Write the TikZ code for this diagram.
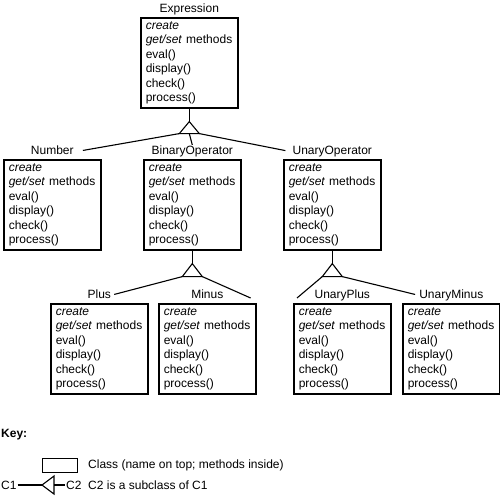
\documentclass[tikz,border=0pt]{standalone}
\usepackage{fontspec}
\setmainfont{Liberation Sans}
\usetikzlibrary{positioning}

\newcommand{\opslist}{\textit{create}\\\textit{get/set} methods\\eval()\\display()\\check()\\process()}

\begin{document}
\begin{tikzpicture}[x=1pt,y=-1pt,
    font=\fontsize{12}{14.4}\selectfont,
    cls/.style={draw, line width=1.6pt, anchor=north west, align=left,
      text width=87pt, inner xsep=5pt, inner ysep=3pt, minimum height=90pt},
    clsname/.style={inner sep=1pt, text depth=0pt},
    gen/.style={line width=1.1pt},
    txt/.style={inner sep=1pt, anchor=west}]

  \useasboundingbox (0,0) rectangle (500,497);

  % ========== Expression ==========
  \node[cls] (expr) at (140,17) {\opslist};
  \node[clsname, above=3pt of expr] (expr-name) {Expression};
  \draw[gen] (expr.south) -- ++(0,13) coordinate (e-apex);
  \draw[gen] (e-apex) -- ++(-10,12) coordinate (e-left) -- ++(20,0) coordinate (e-right) -- cycle;
  \path (e-apex) ++(0,12) coordinate (e-mid);

  % ========== second row ==========
  \node[cls] (num) at (3,159) {\opslist};
  \node[clsname, above=3pt of num] (num-name) {Number};

  \node[cls] (bin) at (143,159) {\opslist};
  \node[clsname, above=3pt of bin] (bin-name) {BinaryOperator};
  \draw[gen] (bin.south) -- ++(0,13) coordinate (b-apex);
  \draw[gen] (b-apex) -- ++(-10,13) coordinate (b-left) -- ++(20,0) coordinate (b-right) -- cycle;

  \node[cls] (una) at (283,159) {\opslist};
  \node[clsname, above=3pt of una] (una-name) {UnaryOperator};
  \draw[gen] (una.south) -- ++(0,13) coordinate (u-apex);
  \draw[gen] (u-apex) -- ++(-10,13) coordinate (u-left) -- ++(20,0) coordinate (u-right) -- cycle;

  \draw[gen] (e-left) -- ([xshift=8pt]num-name.east);
  \draw[gen] (e-mid) -- (bin-name.north);
  \draw[gen] (e-right) -- ([xshift=-6pt]una-name.west);

  % ========== third row ==========
  \node[cls] (plus) at (50,303) {\opslist};
  \node[clsname, above=3pt of plus] (plus-name) {Plus};

  \node[cls] (minus) at (158,303) {\opslist};
  \node[clsname, above=3pt of minus] (minus-name) {Minus};

  \node[cls] (uplus) at (293,303) {\opslist};
  \node[clsname, above=3pt of uplus] (uplus-name) {UnaryPlus};

  \node[cls] (uminus) at (402,303) {\opslist};
  \node[clsname, above=3pt of uminus] (uminus-name) {UnaryMinus};

  \draw[gen] (b-left) -- ([xshift=2pt]plus-name.east);
  \draw[gen] (b-right) -- ([shift={(-6pt,5pt)}]minus.north east);
  \draw[gen] (u-left) -- ([shift={(4pt,5pt)}]uplus.north west);
  \draw[gen] (u-right) -- ([xshift=-3pt]uminus-name.west);

  % ========== Key ==========
  \node[txt, font=\fontsize{12}{14.4}\selectfont\bfseries] (key) at (0,435) {Key:};
  \node[draw, line width=1pt, minimum width=35pt, minimum height=14pt, inner sep=0pt] (keybox) at (59.5,465) {};
  \node[txt] (keybox-text) at (87,465) {Class (name on top; methods inside)};

  \node[txt] (c1) at (0,485) {C1};
  \coordinate (k-apex) at (42,485);
  \draw[gen] (k-apex) -- ++(12,-9) coordinate (k-top) -- ++(0,18) coordinate (k-bot) -- cycle;
  \path (k-top) ++(0,9) coordinate (k-base);
  \node[txt] (c2) at (65,485) {C2};
  \draw[gen] (c1) -- (k-apex);
  \draw[gen] (k-base) -- (c2);
  \node[txt] (c2-text) at (87,485) {C2 is a subclass of C1};

\end{tikzpicture}
\end{document}
